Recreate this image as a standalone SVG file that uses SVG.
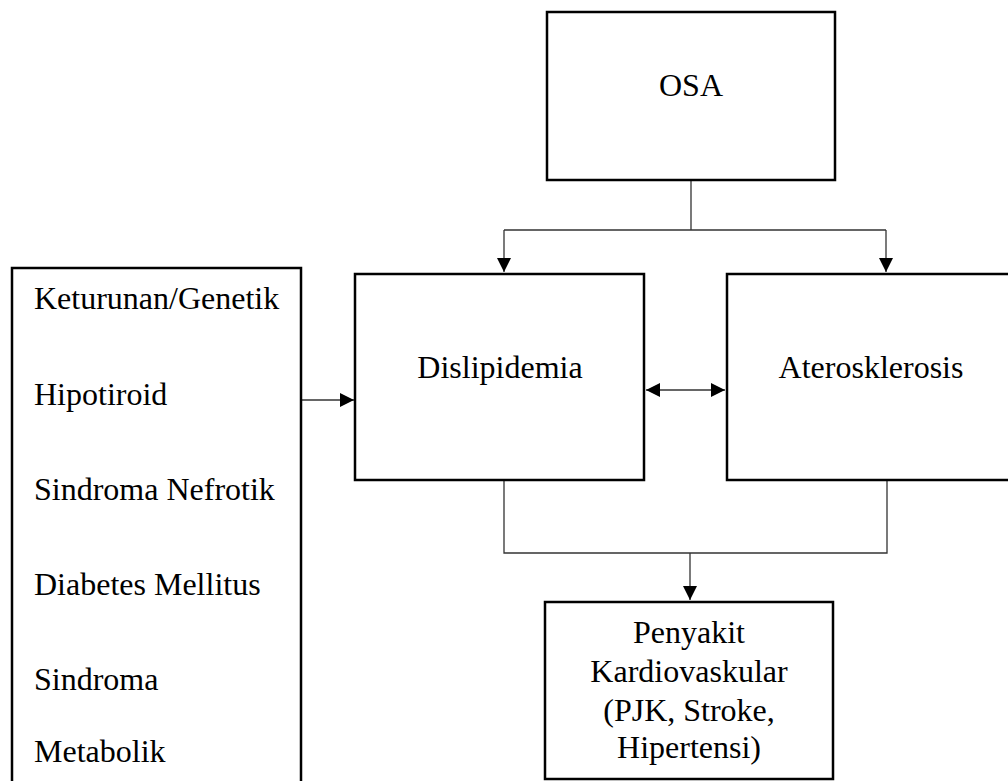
<svg xmlns="http://www.w3.org/2000/svg" width="1008" height="781" viewBox="0 0 1008 781">
<style>
.box{fill:#fff;stroke:#000;stroke-width:2.5}
.t{font-family:"Liberation Serif","Times New Roman",serif;font-size:32px;fill:#000}
.c{text-anchor:middle}
.ln{fill:none;stroke:#333;stroke-width:1.3}
</style>
<defs>
<marker id="ah" markerWidth="14" markerHeight="14" refX="14" refY="7" orient="auto" markerUnits="userSpaceOnUse">
<path d="M0,0 L14,7 L0,14 Z" fill="#000"/>
</marker>
<marker id="as" markerWidth="14" markerHeight="14" refX="0" refY="7" orient="auto" markerUnits="userSpaceOnUse">
<path d="M14,0 L0,7 L14,14 Z" fill="#000"/>
</marker>
</defs>
<rect width="1008" height="781" fill="#fff"/>
<g id="connectors">
<path class="ln" d="M691,180 V230 M504,230 H886"/>
<path class="ln" d="M504,230 V272" marker-end="url(#ah)"/>
<path class="ln" d="M886,230 V272" marker-end="url(#ah)"/>
<path class="ln" d="M302,400 H354" marker-end="url(#ah)"/>
<path class="ln" d="M646,390 H725" marker-start="url(#as)" marker-end="url(#ah)"/>
<path class="ln" d="M504,481 V553 H887 V481"/>
<path class="ln" d="M690,553 V600" marker-end="url(#ah)"/>
</g>
<g id="osa">
<rect class="box" x="547" y="12" width="288" height="168"/>
<text class="t c" x="691" y="96">OSA</text>
</g>
<g id="faktor">
<rect class="box" x="12" y="268" width="289" height="530"/>
<text class="t" x="34" y="309">Keturunan/Genetik</text>
<text class="t" x="34" y="405">Hipotiroid</text>
<text class="t" x="34" y="500">Sindroma Nefrotik</text>
<text class="t" x="34" y="595">Diabetes Mellitus</text>
<text class="t" x="34" y="690">Sindroma</text>
<text class="t" x="34" y="762">Metabolik</text>
</g>
<g id="dislipidemia">
<rect class="box" x="355" y="274" width="289" height="206"/>
<text class="t c" x="500" y="378">Dislipidemia</text>
</g>
<g id="aterosklerosis">
<rect class="box" x="727" y="274" width="290" height="206"/>
<text class="t c" x="871" y="378">Aterosklerosis</text>
</g>
<g id="penyakit">
<rect class="box" x="545" y="602" width="288" height="177"/>
<text class="t c" x="689" y="643">Penyakit</text>
<text class="t c" x="689" y="682">Kardiovaskular</text>
<text class="t c" x="689" y="721">(PJK, Stroke,</text>
<text class="t c" x="689" y="758">Hipertensi)</text>
</g>
</svg>
